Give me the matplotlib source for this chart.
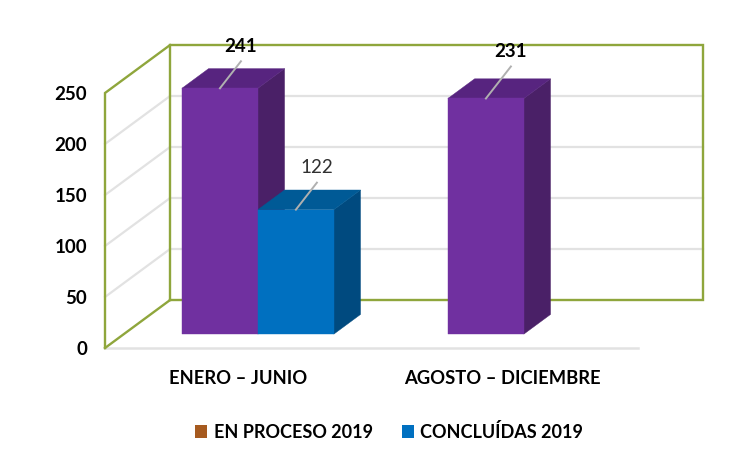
import matplotlib
matplotlib.use("Agg")
import matplotlib.pyplot as plt
from matplotlib.patches import Polygon, Patch

plt.rcParams['font.family'] = ['Lato', 'DejaVu Sans']

# data
periodos = ['ENERO – JUNIO', 'AGOSTO – DICIEMBRE']
en_proceso = [241, 231]
concluidas = [122, None]
y_ticks = [0, 50, 100, 150, 200, 250]

MORADO = ('#7030A0', '#57247F', '#4A2067')
AZUL = ('#0070C0', '#005A96', '#004A7F')
MARCO = '#8FA63C'
GRID = '#E2E2E2'

# oblique projection, depth 0 is the front of the floor and 1 the back wall
DX = 0.244
DY = 47.0
BAR_W = 0.285
D_FRONT = 0.29
D_BACK = 0.70


def proj(x, v, d):
    return (x + d * DX, v + d * DY)


def barra3d(ax, x0, valor, colores, z):
    x1 = x0 + BAR_W
    frente = [proj(x0, 0, D_FRONT), proj(x1, 0, D_FRONT), proj(x1, valor, D_FRONT), proj(x0, valor, D_FRONT)]
    arriba = [proj(x0, valor, D_FRONT), proj(x1, valor, D_FRONT), proj(x1, valor, D_BACK), proj(x0, valor, D_BACK)]
    lado = [proj(x1, 0, D_FRONT), proj(x1, 0, D_BACK), proj(x1, valor, D_BACK), proj(x1, valor, D_FRONT)]
    for pts, c in zip((lado, arriba, frente), (colores[2], colores[1], colores[0])):
        ax.add_patch(Polygon(pts, closed=True, facecolor=c, edgecolor=c, lw=0.3, zorder=z, clip_on=False))


def etiqueta(ax, x0, valor, peso, color, dx, dy):
    # leader line from the front top edge, then the number above it
    xy = proj(x0 + BAR_W / 2, valor, D_FRONT)
    x1, y1 = xy[0] + dx / 266.5, xy[1] + dy / 1.02
    ax.plot([xy[0], x1], [xy[1], y1], color='#B0B0B0', lw=1.4, zorder=9, clip_on=False)
    ax.text(x1, y1 + 15 / 1.02, str(valor), ha='center', va='center', fontsize=13.5,
            fontweight=peso, color=color, zorder=10, clip_on=False)


fig = plt.figure(figsize=(7.46, 4.66), dpi=100)
ax = fig.add_axes([105 / 746, (466 - 348) / 466, 533 / 746, 255 / 466])
ax.set_xlim(0, 2)
ax.set_ylim(0, 250)

# gridlines on the back wall and the side wall
for v in y_ticks[1:-1]:
    ax.plot(*zip(proj(0, v, 0), proj(0, v, 1)), color=GRID, lw=1.6, zorder=1, clip_on=False)
    ax.plot(*zip(proj(0, v, 1), proj(2, v, 1)), color=GRID, lw=1.6, zorder=1, clip_on=False)

# olive frame
esquinas = [
    [proj(0, 0, 1), proj(0, 250, 1), proj(2, 250, 1), proj(2, 0, 1), proj(0, 0, 1)],
    [proj(0, 0, 0), proj(0, 250, 0), proj(0, 250, 1)],
    [proj(0, 0, 0), proj(0, 0, 1)],
]
for linea in esquinas:
    ax.plot(*zip(*linea), color=MARCO, lw=1.7, zorder=2, clip_on=False, solid_joinstyle='miter')

# bars
grupo = [0.218, 1.216]
for i in range(len(periodos)):
    if en_proceso[i] is not None:
        barra3d(ax, grupo[i], en_proceso[i], MORADO, 4)
    if concluidas[i] is not None:
        barra3d(ax, grupo[i] + BAR_W, concluidas[i], AZUL, 5)

etiqueta(ax, grupo[0], en_proceso[0], 'bold', 'black', 21, 27)
etiqueta(ax, grupo[1], en_proceso[1], 'bold', 'black', 25, 32)
etiqueta(ax, grupo[0] + BAR_W, concluidas[0], 'normal', '#303030', 21, 27)

# axes
for s in ('top', 'left', 'right'):
    ax.spines[s].set_visible(False)
ax.spines['bottom'].set_color(GRID)
ax.spines['bottom'].set_linewidth(1.8)
ax.spines['bottom'].set_zorder(1)
ax.set_yticks(y_ticks)
ax.set_yticklabels([str(v) for v in y_ticks], fontsize=13.5, fontweight='bold', color='black')
ax.set_xticks([0.5, 1.49])
ax.set_xticklabels(periodos, fontsize=13.2, fontweight='bold', color='black')
ax.tick_params(axis='y', length=0, pad=13)
ax.tick_params(axis='x', length=0, pad=15.5)
ax.patch.set_alpha(0)

handles = [Patch(facecolor='#A65A1F', label='EN PROCESO 2019'),
           Patch(facecolor=AZUL[0], label='CONCLUÍDAS 2019')]
fig.legend(handles=handles, loc='center', bbox_to_anchor=(389 / 746, 1 - 432 / 466), ncol=2, frameon=False,
           prop={'size': 13, 'weight': 'bold'}, handlelength=0.68, handleheight=0.68,
           handletextpad=0.35, columnspacing=1.6)

fig.savefig('out.png', dpi=100)
